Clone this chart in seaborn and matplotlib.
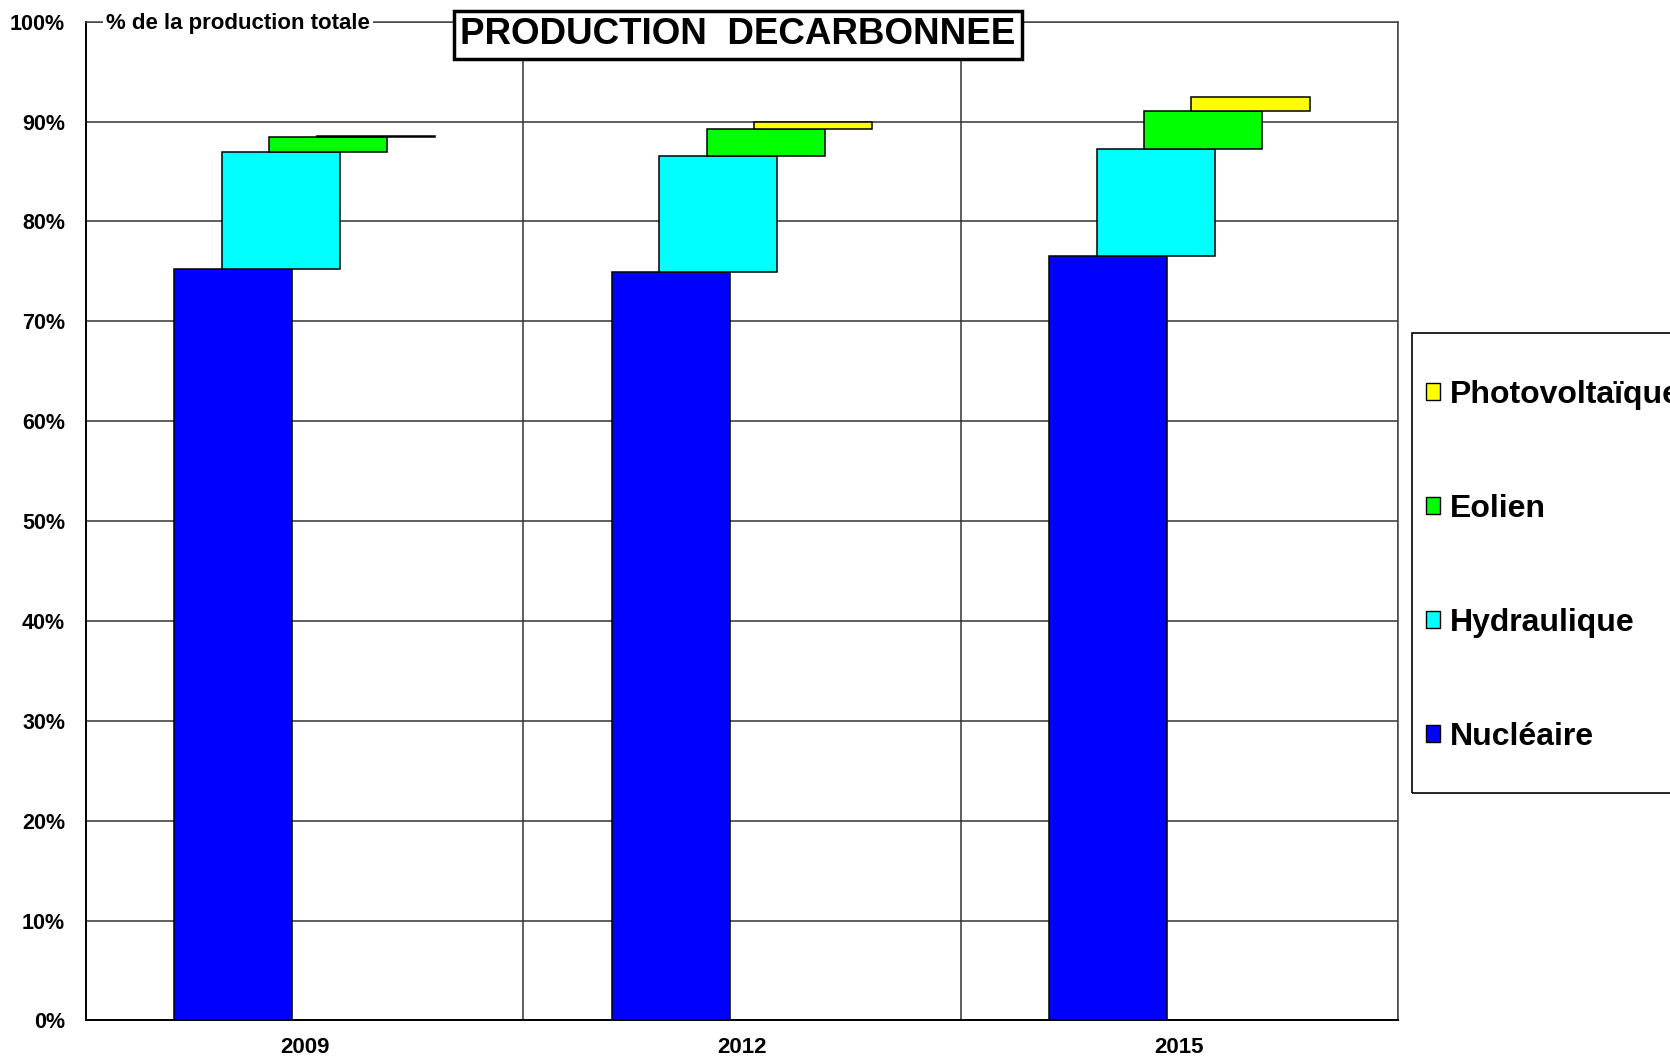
import seaborn as sns
import matplotlib.pyplot as plt
import matplotlib.patches as mpatches
from matplotlib.ticker import MultipleLocator, FixedLocator
import pandas as pd
import numpy as np

sns.set_style("white")
plt.rcParams['font.family'] = ['Liberation Sans', 'DejaVu Sans']
plt.rcParams['font.weight'] = 'bold'
plt.rcParams['text.color'] = 'black'
plt.rcParams['xtick.color'] = 'black'
plt.rcParams['ytick.color'] = 'black'

# Data (% of total production)
years = ["2009", "2012", "2015"]
nucleaire = [75.2, 74.9, 76.5]
hydraulique = [11.8, 11.7, 10.8]
eolien = [1.5, 2.7, 3.8]
photovoltaique = [0.1, 0.7, 1.4]

series = ["Nucléaire", "Hydraulique", "Eolien", "Photovoltaïque"]
values = [nucleaire, hydraulique, eolien, photovoltaique]
colors = ["#0000FF", "#00FFFF", "#00FF00", "#FFFF00"]

fig = plt.figure(figsize=(16.7, 10.58), dpi=100)
ax = fig.add_axes([0.0515, 0.0355, 0.7856, 0.944])
ax.set_axisbelow(True)

# floating, overlapping bars: each series starts where the previous one ends
bar_w = 0.27
step = 0.1086
bottoms = np.zeros(len(years))
for i, (name, vals, col) in enumerate(zip(series, values, colors)):
    df = pd.DataFrame({"pos": np.arange(len(years)) + (i - 1.5) * step, "val": vals})
    sns.barplot(data=df, x="pos", y="val", native_scale=True, width=bar_w,
                bottom=bottoms.copy(), color=col, saturation=1,
                edgecolor="black", linewidth=1.1, errorbar=None, ax=ax, zorder=3)
    bottoms += np.array(vals)

ax.set_xlim(-0.5, 2.5)
ax.set_ylim(0, 100)
ax.set_xlabel("")
ax.set_ylabel("")

ax.yaxis.set_major_locator(MultipleLocator(10))
ax.set_yticks(np.arange(0, 101, 10), [f"{v}%" for v in range(0, 101, 10)])
ax.set_xticks(range(len(years)), years)
ax.xaxis.set_minor_locator(FixedLocator([-0.5, 0.5, 1.5, 2.5]))
ax.tick_params(axis="x", which="major", length=0, pad=12, labelsize=16)
ax.tick_params(axis="x", which="minor", length=6, width=1, direction="out", color="#333")
ax.tick_params(axis="y", length=5, width=1, direction="out", pad=10, labelsize=15.5, color="#333")

ax.grid(axis="y", which="major", color="#333", lw=1.1)
ax.grid(axis="x", which="minor", color="#333", lw=1.1)
for side in ["top", "right"]:
    ax.spines[side].set_color("#444")
    ax.spines[side].set_linewidth(1.1)
for side in ["left", "bottom"]:
    ax.spines[side].set_color("black")
    ax.spines[side].set_linewidth(1.4)

# axis caption
fig.text(106 / 1670, 1 - 23 / 1058, "% de la production totale", ha="left", va="center",
         fontsize=16, fontweight="bold",
         bbox=dict(boxstyle="square,pad=0.15", fc="white", ec="none"))

# boxed title
fig.text(738 / 1670, 1 - 35 / 1058, "PRODUCTION  DECARBONNEE", ha="center", va="center",
         fontsize=26.5, fontweight="bold",
         bbox=dict(boxstyle="square,pad=0.17", fc="white", ec="black", lw=2.5))

# legend frame (runs off the right edge)
fig.patches.append(mpatches.Rectangle((1412 / 1670, 1 - 793 / 1058), 0.3, 460 / 1058,
                                      transform=fig.transFigure, fill=False,
                                      ec="black", lw=1.2))
handles = [mpatches.Patch(facecolor=c, edgecolor="black", linewidth=1, label=s)
           for s, c in zip(series, colors)][::-1]
fig.legend(handles=handles, loc="upper left", bbox_to_anchor=(1426 / 1670, 1 - 380 / 1058),
           frameon=False, handlelength=0.45, handleheight=0.45,
           handletextpad=0.3, labelspacing=2.63, borderpad=0, borderaxespad=0,
           prop={"weight": "bold", "size": 23})

plt.savefig("out.png", dpi=100)
plt.close()
